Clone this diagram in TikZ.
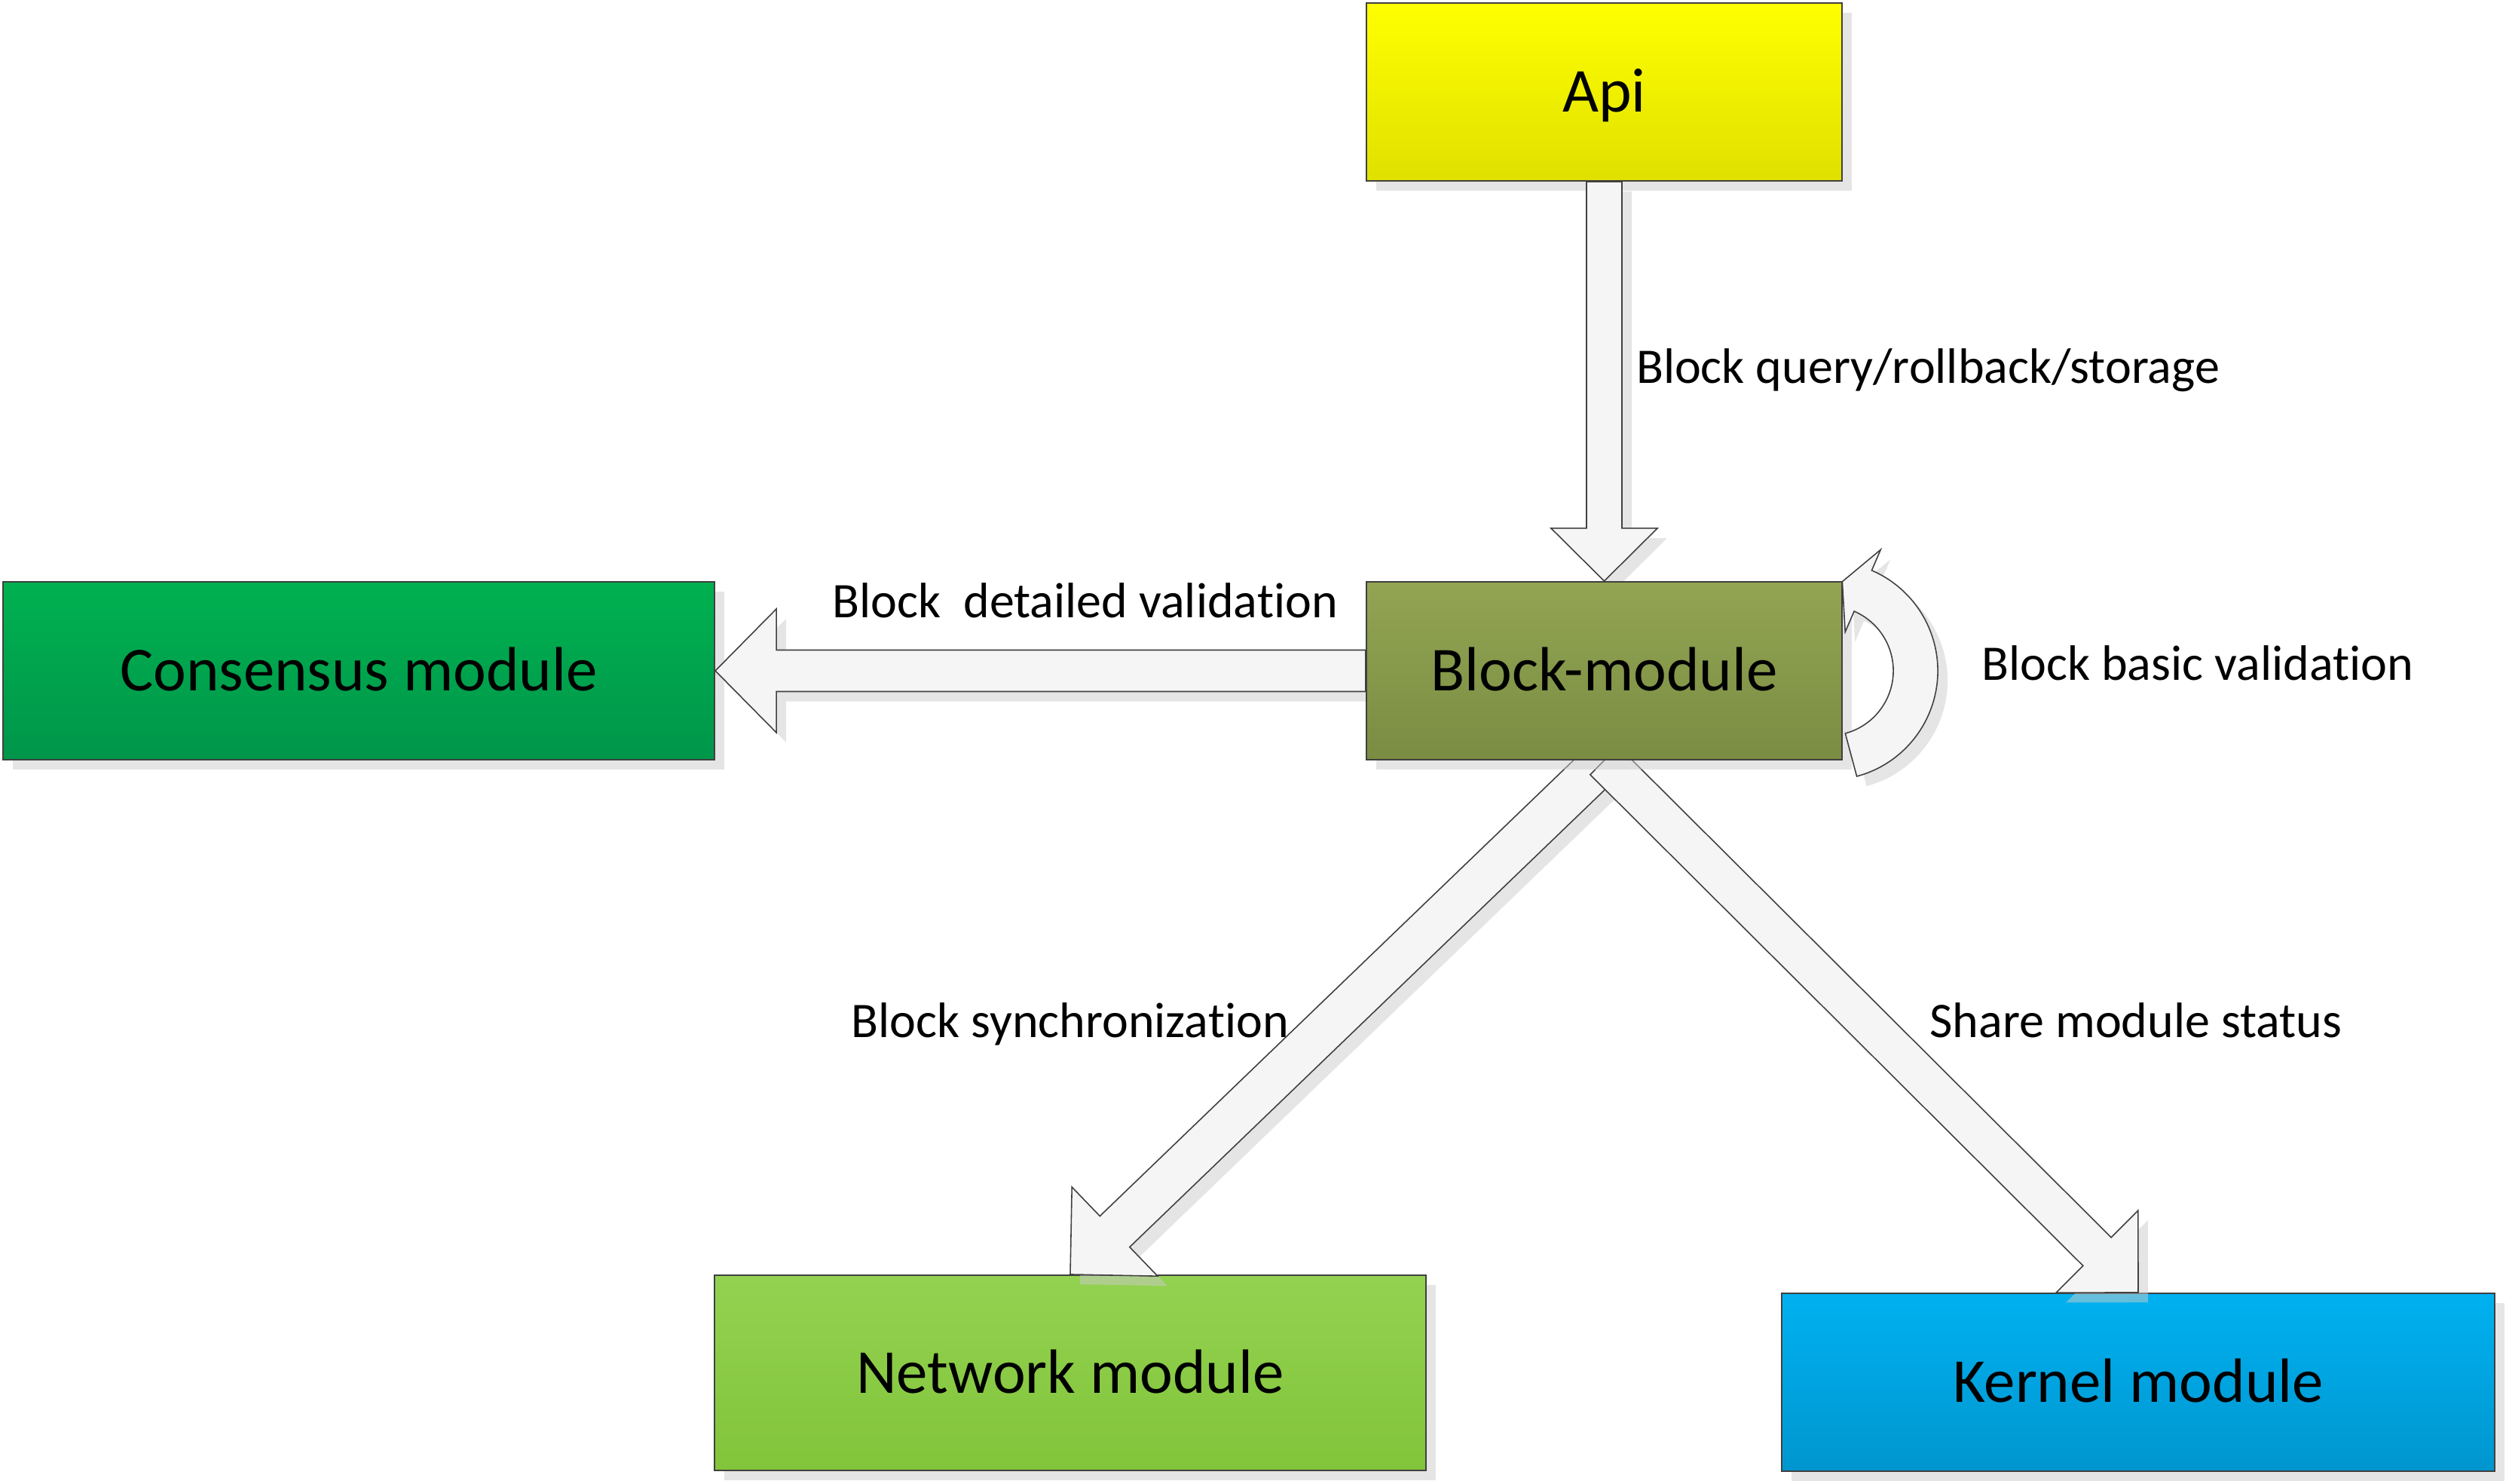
\documentclass[tikz,border=0pt]{standalone}
\usepackage{fontspec}
\setmainfont{Carlito}[RawFeature={-liga,-clig,-calt,-dlig}]
\usetikzlibrary{calc,shadows}
\pgfdeclarelayer{front}
\pgfsetlayers{main,front}
\definecolor{apitop}{HTML}{FFFF00}
\definecolor{apibot}{HTML}{E0E000}
\definecolor{blocktop}{HTML}{93A553}
\definecolor{blockbot}{HTML}{7A8C42}
\definecolor{constop}{HTML}{00B150}
\definecolor{consbot}{HTML}{00964A}
\definecolor{nettop}{HTML}{93D251}
\definecolor{netbot}{HTML}{82C43A}
\definecolor{kertop}{HTML}{00B1F0}
\definecolor{kerbot}{HTML}{0096CF}
\definecolor{edgegray}{HTML}{404040}
\definecolor{arrowfill}{HTML}{F5F5F5}
\newcommand{\boxfont}{\fontsize{23.6pt}{28pt}\selectfont}
\newcommand{\lblfont}{\fontsize{18.8pt}{22pt}\selectfont}
\tikzset{
  softshadow/.style={drop shadow={shadow xshift=0.13cm, shadow yshift=-0.13cm, fill=black!20, opacity=0.5}},
  box/.style={draw=edgegray, line width=0.6pt, minimum height=2.36cm, text height=15.2pt, text depth=0pt, font=\boxfont, softshadow},
  lbl/.style={font=\lblfont, anchor=base, inner sep=0pt},
  fatarrow/.style n args={3}{fill=arrowfill, draw=edgegray, line width=0.45pt, line join=miter, softshadow,
    to path={let \p1=(\tikztostart), \p2=(\tikztotarget), \p3=($(\p2)!#3!(\p1)$) in
      ($(\p1)!#1!90:(\p2)$) -- ($(\p3)!#1!-90:(\p1)$) -- ($(\p3)!#2!-90:(\p1)$)
      -- (\p2) -- ($(\p3)!#2!90:(\p1)$) -- ($(\p3)!#1!90:(\p1)$)
      -- ($(\p1)!#1!-90:(\p2)$) -- cycle}},
  loopstyle/.style={fill=arrowfill, draw=edgegray, line width=0.45pt, line join=miter, softshadow}
}
\begin{document}
\begin{tikzpicture}
\useasboundingbox (0,0) rectangle (33.25,-19.69);
\begin{pgfonlayer}{front}
\node[box, minimum width=6.31cm, top color=blocktop, bottom color=blockbot] (block) at (21.285,-8.90) {Block-module};
\end{pgfonlayer}
\node[box, minimum width=6.31cm, top color=apitop, bottom color=apibot] (api) at (21.285,-1.22) {Api};
\node[box, minimum width=9.44cm, top color=constop, bottom color=consbot] (cons) at (4.76,-8.90) {Consensus module};
\node[box, minimum width=9.44cm, minimum height=2.59cm, top color=nettop, bottom color=netbot] (net) at (14.20,-18.215) {Network module};
\node[box, minimum width=9.46cm, top color=kertop, bottom color=kerbot] (kern) at (28.37,-18.34) {Kernel module};
\draw[fatarrow={0.235cm}{0.705cm}{0.70cm}] (api.south) to (block.north);
\draw[fatarrow={0.275cm}{0.82cm}{0.81cm}] (block.west) to (cons.east);
\draw[fatarrow={0.285cm}{0.82cm}{0.82cm}] (block.south) to (net.north);
\draw[fatarrow={0.265cm}{0.77cm}{0.77cm}] (block.south) to (kern.north);
\begin{pgfonlayer}{front}
\coordinate (loopc) at ($(block.east)+(-0.19,0)$);
\draw[loopstyle] ($(loopc)+(-75:1.45)$) arc[start angle=-75, end angle=66.7, radius=1.45]
  -- ($(loopc)+(66.7:1.75)$) -- ($(loopc)+(81.2:1.197)$) -- ($(loopc)+(66.7:0.56)$)
  -- ($(loopc)+(66.7:0.86)$) arc[start angle=66.7, end angle=-75, radius=0.86] -- cycle;
\end{pgfonlayer}
\node[lbl] (lquery) at (25.58,-5.09) {Block query/rollback/storage};
\node[lbl] (ldetail) at (14.40,-8.19) {Block\ \ detailed valida\kern0pt{}tion};
\node[lbl] (lbasic) at (29.16,-9.02) {Block basic valida\kern0pt{}tion};
\node[lbl] (lsync) at (14.20,-13.76) {Block synchroniza\kern0pt{}tion};
\node[lbl] (lshare) at (28.34,-13.76) {Share module status};
\end{tikzpicture}
\end{document}
